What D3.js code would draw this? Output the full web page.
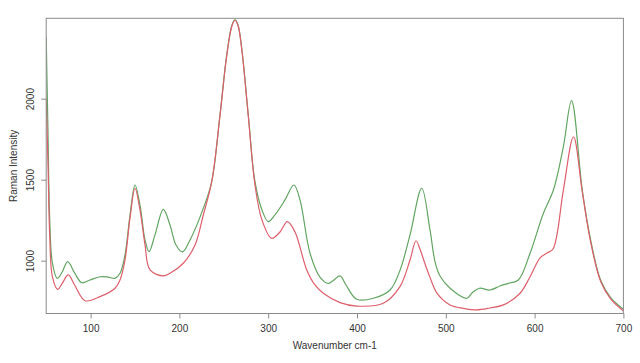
<!DOCTYPE html>
<html>
<head>
<meta charset="utf-8">
<script src="https://cdn.jsdelivr.net/npm/d3@7"></script>
<style>
html,body{margin:0;padding:0;background:#fff;}
svg{display:block;font-family:"Liberation Sans",Arial,sans-serif;}
</style>
</head>
<body>
<svg id="chart" width="640" height="363"></svg>
<script>
// Wavenumber (cm-1) / intensity readings, green spectrum
const greenWavenumber = [50,52,54,57,62.5,68,74.2,82,90,99.3,110.6,119.6,127.5,133.1,138.7,144.4,150,155.6,161.3,165.8,172.5,181.9,189.4,196.2,203.5,212,226.9,236.4,245.7,253.3,259.2,262.6,266,270.2,277.6,285.1,293,300.1,307.6,318.9,329,335.8,347.1,358.3,367.7,374.1,380.9,387.6,399.7,418.4,437.2,448.4,459.7,472.9,482.2,488,493.5,504.8,523.6,529.5,537.8,549.9,561.1,570.5,581.7,594.9,609.9,621.2,632.4,641.6,653.7,663.1,674.3,685.6,700];
const greenIntensity  = [2380,1800,1250,985,891,930,994,925,864,881,901,899,891,922,1035,1282,1467,1344,1128,1056,1159,1317,1220,1097,1054,1128,1323,1488,1899,2270,2455,2486,2455,2311,1899,1488,1313,1241,1282,1375,1467,1375,1046,899,860,881,906,850,762,768,819,940,1159,1447,1190,990,905,830,768,801,830,819,844,860,881,1046,1293,1436,1704,1988,1436,1128,881,772,700];
// Wavenumber (cm-1) / intensity readings, red spectrum
const redWavenumber = [50,52,54,57,63,68,74.9,82,93.7,110.6,127.5,133.1,138.7,144.4,150,155.6,161.3,166.9,181.9,189.4,204.4,217.6,226.9,236.4,245.7,253.3,259.2,262.6,266,270.2,277.6,285.1,293,303.9,313.3,321.5,330.2,343.4,352.7,362.1,380.9,399.7,429.6,448.4,459.7,466.4,471,476,482,490,504.8,519.8,534.8,549.9,564.9,583.6,594.9,606.2,614,620.7,632.4,643.8,653.7,663.1,674.3,685.6,700];
const redIntensity  = [2000,1600,1150,900,823,860,912,850,753,778,830,881,1004,1264,1447,1313,1097,943,906,922,984,1097,1282,1488,1895,2265,2450,2484,2452,2305,1890,1467,1251,1138,1177,1241,1177,943,850,799,741,720,737,840,1004,1123,1070,990,900,800,727,706,696,708,727,799,901,1017,1048,1072,1436,1765,1424,1115,873,764,690];

const xTicks = [100,200,300,400,500,600,700];
const yTicks = [1000,1500,2000];
const xTitle = "Wavenumber cm-1";
const yTitle = "Raman Intensity";

const svg = d3.select("#chart");
const pL = 46.2, pR = 623.4, pT = 18.3, pB = 313.5;

const x = d3.scaleLinear().domain([50,700]).range([pL,pR]);
const y = d3.scaleLinear().domain([674,2496]).range([pB,pT]);

svg.append("defs").append("clipPath").attr("id","plotclip")
  .append("rect").attr("x",pL).attr("y",pT).attr("width",pR-pL).attr("height",pB-pT);

const line = d3.line().x(d=>x(d[0])).y(d=>y(d[1])).curve(d3.curveCatmullRom.alpha(0.5));

const g = svg.append("g").attr("clip-path","url(#plotclip)");
g.append("path")
  .datum(greenWavenumber.map((w,i)=>[w,greenIntensity[i]]))
  .attr("d",line).attr("fill","none").attr("stroke","#62a562").attr("stroke-width",1.2);
g.append("path")
  .datum(redWavenumber.map((w,i)=>[w,redIntensity[i]]))
  .attr("d",line).attr("fill","none").attr("stroke","#de5f6c").attr("stroke-width",1.2);

// box
svg.append("rect").attr("x",pL).attr("y",pT).attr("width",pR-pL).attr("height",pB-pT)
  .attr("fill","none").attr("stroke","#8a8a8a").attr("stroke-width",1);

// x axis
const xAxis = d3.axisBottom(x).tickValues(xTicks).tickSize(5).tickPadding(6).tickFormat(d3.format("d"));
const gx = svg.append("g").attr("transform",`translate(0,${pB})`).call(xAxis);
gx.select(".domain").remove();
gx.selectAll("line").attr("stroke","#8a8a8a");
gx.selectAll("text").attr("fill","#333").attr("font-size",10).attr("font-family","Liberation Sans, Arial, sans-serif");

// y axis
const yAxis = d3.axisLeft(y).tickValues(yTicks).tickSize(5).tickFormat(d3.format("d"));
const gy = svg.append("g").attr("transform",`translate(${pL},0)`).call(yAxis);
gy.select(".domain").remove();
gy.selectAll("line").attr("stroke","#8a8a8a");
gy.selectAll("text")
  .attr("fill","#333").attr("font-size",10).attr("font-family","Liberation Sans, Arial, sans-serif")
  .attr("x",null).attr("dy",null)
  .attr("text-anchor","middle")
  .attr("transform","translate(-12,0) rotate(-90)");

svg.append("text").attr("x",(pL+pR)/2).attr("y",349)
  .attr("text-anchor","middle").attr("font-size",10).attr("fill","#333").text(xTitle);
svg.append("text").attr("transform",`translate(17,${(pT+pB)/2}) rotate(-90)`)
  .attr("text-anchor","middle").attr("font-size",10).attr("fill","#333").text(yTitle);
</script>
</body>
</html>
